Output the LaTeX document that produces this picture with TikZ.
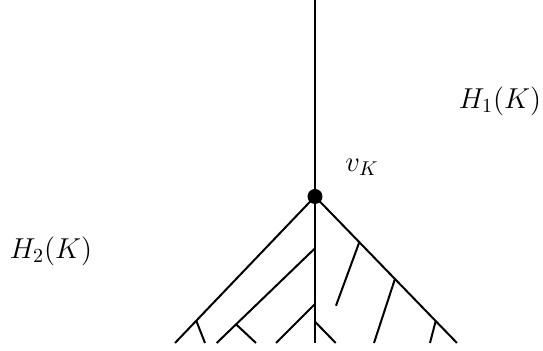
\documentclass[tikz,border=0pt]{standalone}
\usetikzlibrary{calc}
\begin{document}
\begin{tikzpicture}[x=0.5pt,y=-0.5pt,line width=1pt,
  lbl/.style={inner sep=0pt,font=\fontsize{13.8}{16}\selectfont}]
\useasboundingbox (0,0) rectangle (543,351);
\coordinate (v) at (315,196.5);
\coordinate (top) at (315,0);
\coordinate (bot) at (315,343);
\coordinate (L) at (175,343);
\coordinate (R) at (457,343);
\draw (top) -- (bot);
\draw (v) -- (L);
\draw (v) -- (R);
% left branches
\coordinate (a1) at (315,248.3);
\coordinate (a2) at (216.7,343);
\draw (a1) -- (a2);
\coordinate (b1) at (315,304);
\coordinate (b2) at (276,343);
\draw (b1) -- (b2);
\coordinate (c1) at (315,321.7);
\coordinate (c2) at (335.7,343);
\draw (c1) -- (c2);
\coordinate (d1) at ($(v)!0.848!(L)$);
\coordinate (d2) at (205,343);
\draw (d1) -- (d2);
\coordinate (e1) at ($(a1)!0.803!(a2)$);
\coordinate (e2) at (256,343);
\draw (e1) -- (e2);
% right branches
\coordinate (f1) at ($(v)!0.312!(R)$);
\coordinate (f2) at (336,305.7);
\draw (f1) -- (f2);
\coordinate (g1) at ($(v)!0.563!(R)$);
\coordinate (g2) at (374,343);
\draw (g1) -- (g2);
\coordinate (h1) at ($(v)!0.85!(R)$);
\coordinate (h2) at (430,343);
\draw (h1) -- (h2);
\fill (v) circle[radius=7.5];
\node[lbl] (vk) at (362,167) {$v_K$};
\node[lbl] (h1k) at (500,101) {$H_1(K)$};
\node[lbl] (h2k) at (51,251) {$H_2(K)$};
\end{tikzpicture}
\end{document}
